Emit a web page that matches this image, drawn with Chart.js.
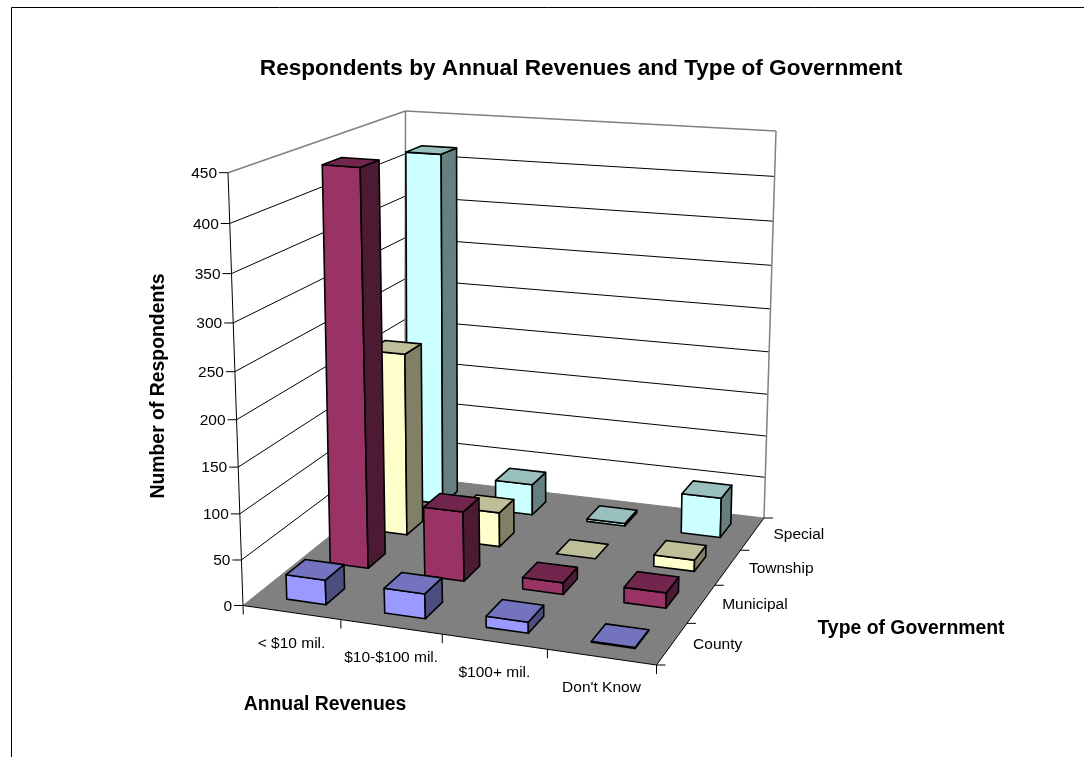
<!DOCTYPE html>
<html>
<head>
<meta charset="utf-8">
<style>
  html, body { margin: 0; padding: 0; background: #fff; overflow: hidden; }
  canvas { display: block; }
</style>
<script src="https://cdn.jsdelivr.net/npm/chart.js@4/dist/chart.umd.min.js"></script>
</head>
<body>
<canvas id="chart-governo" width="1084" height="757"></canvas>
<script>
const revenues  = ['< $10 mil.', '$10-$100 mil.', '$100+ mil.', "Don't Know"];
const govTypes  = ['County', 'Municipal', 'Township', 'Special'];
const county    = [27, 27, 12, 1];
const municipal = [437, 78, 13, 17];
const township  = [212, 40, 0, 13];
const special   = [416, 37, 3, 47];

const FONT = '"Liberation Sans", Arial, sans-serif';

// cube corners on the page: floor and the plane at the top of the value axis
const floorQuad = [[243, 605.5], [656.5, 665], [764, 518], [405, 476]];
const topQuad   = [[228, 172.7], [665, 207], [776, 131], [405.5, 111]];
const HEIGHT_PERSPECTIVE = 0.94;
const BAR_WIDTH = 0.405;
const BAR_DEPTH = 0.43;
const BAR_SHIFT = 0.005;

const faces = [
  { front: '#9999ff', side: '#4d4d80', top: '#7373bf' },
  { front: '#993366', side: '#4d1a33', top: '#73264d' },
  { front: '#ffffcc', side: '#808066', top: '#bfbf99' },
  { front: '#ccffff', side: '#668080', top: '#99bfbf' }
];

// unit square -> quadrilateral
function squareToQuad(q) {
  const [[x0, y0], [x1, y1], [x2, y2], [x3, y3]] = q;
  const dx1 = x1 - x2, dx2 = x3 - x2, sx = x0 - x1 + x2 - x3;
  const dy1 = y1 - y2, dy2 = y3 - y2, sy = y0 - y1 + y2 - y3;
  const den = dx1 * dy2 - dx2 * dy1;
  const g = (sx * dy2 - dx2 * sy) / den;
  const h = (dx1 * sy - sx * dy1) / den;
  const a = x1 - x0 + g * x1, b = x3 - x0 + h * x3;
  const d = y1 - y0 + g * y1, e = y3 - y0 + h * y3;
  return (u, v) => {
    const k = g * u + h * v + 1;
    return [(a * u + b * v + x0) / k, (d * u + e * v + y0) / k];
  };
}
const onFloor = squareToQuad(floorQuad);
const onTop   = squareToQuad(topQuad);

// u along revenues, v along government type, w up the value axis (all 0..1)
function project(u, v, w) {
  const p0 = onFloor(u, v), p1 = onTop(u, v);
  const f = w * HEIGHT_PERSPECTIVE / (1 + w * (HEIGHT_PERSPECTIVE - 1));
  return [p0[0] + (p1[0] - p0[0]) * f, p0[1] + (p1[1] - p0[1]) * f];
}

function line(ctx, a, b, color, width) {
  ctx.beginPath();
  ctx.moveTo(a[0], a[1]);
  ctx.lineTo(b[0], b[1]);
  ctx.strokeStyle = color;
  ctx.lineWidth = width || 1;
  ctx.stroke();
}

function poly(ctx, pts, fill) {
  ctx.beginPath();
  pts.forEach((p, i) => i ? ctx.lineTo(p[0], p[1]) : ctx.moveTo(p[0], p[1]));
  ctx.closePath();
  ctx.fillStyle = fill;
  ctx.fill();
  ctx.strokeStyle = '#000';
  ctx.lineWidth = 1.6;
  ctx.lineJoin = 'round';
  ctx.stroke();
}

function text(ctx, str, x, y, font, align, rot) {
  ctx.save();
  ctx.translate(x, y);
  if (rot) ctx.rotate(rot);
  ctx.font = font;
  ctx.fillStyle = '#000';
  ctx.textAlign = align || 'center';
  ctx.textBaseline = 'middle';
  ctx.fillText(str, 0, 0);
  ctx.restore();
}

// fractions along each scale, so everything goes through the chart's axes
function fractions(chart) {
  const { x, y, depth } = chart.scales;
  return {
    u: i => (x.getPixelForValue(i) - x.left) / x.width,
    v: j => (depth.getPixelForValue(j) - depth.left) / depth.width,
    w: val => (y.bottom - y.getPixelForValue(val)) / y.height
  };
}

const cube3d = {
  id: 'cube3d',

  beforeDatasetsDraw(chart) {
    const ctx = chart.ctx;
    const { u, v, w } = fractions(chart);
    const yTicks = chart.scales.y.ticks;
    const tickFont = '15.5px ' + FONT;

    ctx.save();
    // page frame
    line(ctx, [11.5, 757], [11.5, 7.5], '#000');
    line(ctx, [11.5, 7.5], [1084, 7.5], '#000');

    // floor
    ctx.beginPath();
    floorQuad.forEach((p, i) => i ? ctx.lineTo(p[0], p[1]) : ctx.moveTo(p[0], p[1]));
    ctx.closePath();
    ctx.fillStyle = '#808080';
    ctx.fill();

    // grid on the two walls
    yTicks.forEach(t => {
      const h = w(t.value);
      const top = t.value === 450;
      if (t.value > 0) {
        line(ctx, project(0, 0, h), project(0, 1, h), top ? '#808080' : '#000', top ? 1.5 : 1);
        line(ctx, project(0, 1, h), project(1, 1, h), top ? '#808080' : '#000', top ? 1.5 : 1);
      }
      const a = project(0, 0, h);
      line(ctx, a, [a[0] - 9, a[1]], '#000');
      text(ctx, String(t.value), a[0] - 11, a[1] + 1, tickFont, 'right');
    });
    line(ctx, project(0, 1, 0), project(0, 1, 1), '#808080', 1.5);
    line(ctx, project(1, 1, 0), project(1, 1, 1), '#808080', 1.5);
    line(ctx, project(0, 1, 0), project(1, 1, 0), '#808080');
    line(ctx, project(0, 0, 0), project(0, 1, 0), '#808080');

    // near edges of the floor and the value axis
    line(ctx, project(0, 0, 0), project(1, 0, 0), '#000');
    line(ctx, project(1, 0, 0), project(1, 1, 0), '#000');
    const base = project(0, 0, 0);
    line(ctx, base, [base[0] + 0.3, base[1] + 9], '#000');
    line(ctx, project(0, 0, 0), project(0, 0, 1), '#000');

    // ticks and labels along the floor
    revenues.forEach((name, i) => {
      const e = project((i + 1) / revenues.length, 0, 0);
      line(ctx, e, [e[0], e[1] + 9], '#000');
      const c = project(u(i), 0, 0);
      text(ctx, name, c[0], c[1] + 31, tickFont);
    });
    govTypes.forEach((name, j) => {
      const e = project(1, (j + 1) / govTypes.length, 0);
      line(ctx, e, [e[0] + 9, e[1]], '#000');
      const c = project(1, v(j), 0);
      text(ctx, name, c[0] + 21, c[1] + 1, tickFont, 'left');
    });
    const end = project(1, 0, 0);
    line(ctx, end, [end[0] + 9, end[1]], '#000');

    // axis titles
    const bold = 'bold 19.4px ' + FONT;
    text(ctx, 'Number of Respondents', 158.5, 386, bold, 'center', -Math.PI / 2);
    text(ctx, 'Annual Revenues', 325, 705, bold);
    text(ctx, 'Type of Government', 911, 629, bold);
    ctx.restore();
  },

  // the flat bars are replaced by the boxes drawn below
  beforeDatasetDraw() {
    return false;
  },

  afterDatasetsDraw(chart) {
    const ctx = chart.ctx;
    const { u, v, w } = fractions(chart);
    const halfU = BAR_WIDTH / revenues.length / 2;
    const halfV = BAR_DEPTH / govTypes.length / 2;

    ctx.save();
    // back row first, left to right, so nearer boxes cover farther ones
    for (let j = govTypes.length - 1; j >= 0; j--) {
      const values = chart.data.datasets[j].data;
      const c = faces[j];
      values.forEach((val, i) => {
        const u0 = u(i) + BAR_SHIFT - halfU, u1 = u(i) + BAR_SHIFT + halfU;
        const v0 = v(j) - halfV, v1 = v(j) + halfV;
        const h = w(val);
        if (val > 0) {
          poly(ctx, [project(u0, v0, 0), project(u1, v0, 0), project(u1, v0, h), project(u0, v0, h)], c.front);
          poly(ctx, [project(u1, v0, 0), project(u1, v1, 0), project(u1, v1, h), project(u1, v0, h)], c.side);
        }
        poly(ctx, [project(u0, v0, h), project(u1, v0, h), project(u1, v1, h), project(u0, v1, h)], c.top);
      });
    }
    ctx.restore();
  }
};

new Chart(document.getElementById('chart-governo').getContext('2d'), {
  type: 'bar',
  data: {
    labels: revenues,
    datasets: [
      { label: govTypes[0], data: county },
      { label: govTypes[1], data: municipal },
      { label: govTypes[2], data: township },
      { label: govTypes[3], data: special }
    ]
  },
  options: {
    responsive: false,
    animation: false,
    layout: { padding: { left: 228, right: 150, top: 55, bottom: 90 } },
    scales: {
      x: { display: false },
      y: { display: false, min: 0, max: 450, ticks: { stepSize: 50 } },
      depth: { type: 'category', axis: 'x', labels: govTypes, offset: true, display: false }
    },
    plugins: {
      legend: { display: false },
      tooltip: { enabled: false },
      title: {
        display: true,
        fullSize: false,
        text: 'Respondents by Annual Revenues and Type of Government',
        color: '#000',
        font: { family: FONT, size: 22.6, weight: 'bold' },
        padding: { top: 0, bottom: 0 }
      }
    }
  },
  plugins: [cube3d]
});
</script>
</body>
</html>
